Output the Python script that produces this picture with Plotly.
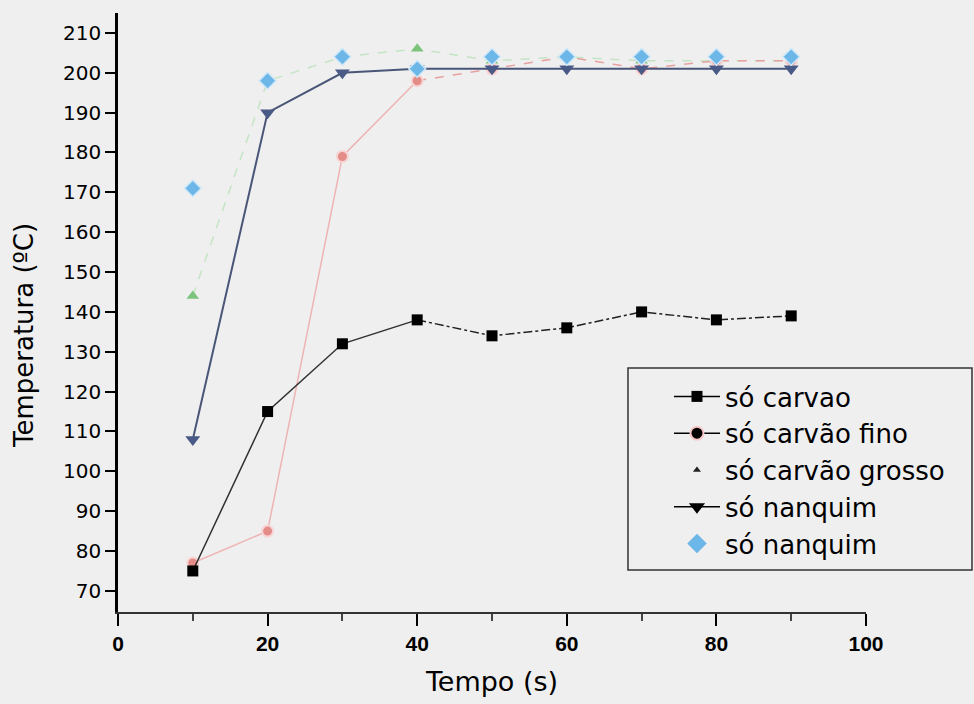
import plotly.graph_objects as go

tempo = [10, 20, 30, 40, 50, 60, 70, 80, 90]
so_carvao = [75, 115, 132, 138, 134, 136, 140, 138, 139]
so_carvao_fino = [77, 85, 179, 198, 201, 204, 201, 203, 203]
so_carvao_grosso = [144, 198, 204, 206, 203, 204, 203, 203, 203]
so_nanquim_a = [108, 190, 200, 201, 201, 201, 201, 201, 201]
so_nanquim_b = [171, 198, 204, 201, 204, 204, 204, 204, 204]

names = ["só carvao", "só carvão fino", "só carvão grosso", "só nanquim", "só nanquim"]
y_ticks = list(range(70, 211, 10))
x_ticks = list(range(0, 101, 20))

BG = "#efefef"
fig = go.Figure()

# só carvão grosso (green, dashed)
fig.add_trace(go.Scatter(x=tempo, y=so_carvao_grosso, mode="lines+markers",
    line=dict(color="#c4e4c4", width=1.5, dash="dash"),
    marker=dict(symbol="triangle-up", size=11, color="#7cc47c"), showlegend=False))
# só carvão fino (pink)
fig.add_trace(go.Scatter(x=tempo[:4], y=so_carvao_fino[:4], mode="lines",
    line=dict(color="#eeb4b4", width=1.5), showlegend=False))
fig.add_trace(go.Scatter(x=tempo[3:], y=so_carvao_fino[3:], mode="lines",
    line=dict(color="#e8a0a0", width=1.5, dash="dash"), showlegend=False))
fig.add_trace(go.Scatter(x=tempo, y=so_carvao_fino, mode="markers",
    marker=dict(symbol="circle", size=11, color="#e48c88", line=dict(color="#f8d4d4", width=2)),
    showlegend=False))
# só nanquim (navy)
fig.add_trace(go.Scatter(x=tempo, y=so_nanquim_a, mode="lines+markers",
    line=dict(color="#4a5678", width=2),
    marker=dict(symbol="triangle-down", size=13, color="#4a5a86"), showlegend=False))
# só nanquim diamonds (light blue)
fig.add_trace(go.Scatter(x=tempo, y=so_nanquim_b, mode="markers",
    marker=dict(symbol="diamond", size=13, color="#6cb6e8", line=dict(color="#cfe8f8", width=1.5)),
    showlegend=False))
# só carvao (black)
fig.add_trace(go.Scatter(x=tempo[:4], y=so_carvao[:4], mode="lines",
    line=dict(color="#303030", width=1.5), showlegend=False))
fig.add_trace(go.Scatter(x=tempo[3:], y=so_carvao[3:], mode="lines",
    line=dict(color="#202020", width=1.5, dash="dashdot"), showlegend=False))
fig.add_trace(go.Scatter(x=tempo, y=so_carvao, mode="markers",
    marker=dict(symbol="square", size=11, color="#000000"), showlegend=False))

# legend entries
leg_styles = [
    dict(mode="lines+markers", line=dict(color="#000", width=1.5), marker=dict(symbol="square", size=11, color="#000")),
    dict(mode="lines+markers", line=dict(color="#000", width=1.5), marker=dict(symbol="circle", size=13, color="#000", line=dict(color="#f8c8c8", width=2))),
    dict(mode="markers", marker=dict(symbol="triangle-up", size=7, color="#222")),
    dict(mode="lines+markers", line=dict(color="#000", width=1.5), marker=dict(symbol="triangle-down", size=14, color="#000")),
    dict(mode="markers", marker=dict(symbol="diamond", size=15, color="#6cb6e8")),
]
for i, (nm, st) in enumerate(zip(names, leg_styles)):
    fig.add_trace(go.Scatter(x=[None], y=[None], name=nm, legendgroup=f"g{i}", showlegend=True, **st))

# legend frame
fig.add_shape(type="rect", xref="paper", yref="paper",
              x0=0.6818, x1=1.1417, y0=0.0701, y1=0.4073,
              line=dict(color="#333", width=1.5), fillcolor="rgba(0,0,0,0)", layer="above")

# y-axis title (placed as annotation to match the reference position)
fig.add_annotation(text="Temperatura (ºC)", xref="paper", yref="paper",
                   x=-0.1257, y=0.4624, xanchor="center", yanchor="middle",
                   textangle=-90, showarrow=False,
                   font=dict(size=26, family="DejaVu Sans", color="#000"))

fig.update_layout(
    width=974, height=704,
    paper_bgcolor=BG, plot_bgcolor=BG,
    margin=dict(l=118, r=108, t=13, b=92),
    font=dict(family="DejaVu Sans", color="#000"),
    legend=dict(x=0.7366, y=0.399, xanchor="left", yanchor="top",
                bgcolor="rgba(0,0,0,0)", borderwidth=0,
                font=dict(size=26, family="DejaVu Sans"),
                tracegroupgap=5, itemwidth=46,
                traceorder="normal"),
    xaxis=dict(range=[0, 100], tickvals=x_ticks, ticks="outside", ticklen=12, tickwidth=2,
               tickcolor="#000", showline=True, linecolor="#333", linewidth=2,
               showgrid=False, zeroline=False,
               tickfont=dict(size=21, family="Liberation Sans", weight="bold"),
               minor=dict(tickvals=[10, 30, 50, 70, 90], ticks="outside", ticklen=7, tickcolor="#444"),
               title=dict(text="Tempo (s)", font=dict(size=27, family="DejaVu Sans"), standoff=18)),
    yaxis=dict(range=[64.7, 215], tickvals=y_ticks, ticks="outside", ticklen=10, tickwidth=2,
               tickcolor="#000", showline=True, linecolor="#000", linewidth=2.5,
               showgrid=False, zeroline=False, tickfont=dict(size=20, family="DejaVu Sans"),
               minor=dict(tickvals=[v + 5 for v in range(65, 211, 10)], ticks="outside", ticklen=7, tickcolor="#000")),
)

fig.write_html("out.html")
